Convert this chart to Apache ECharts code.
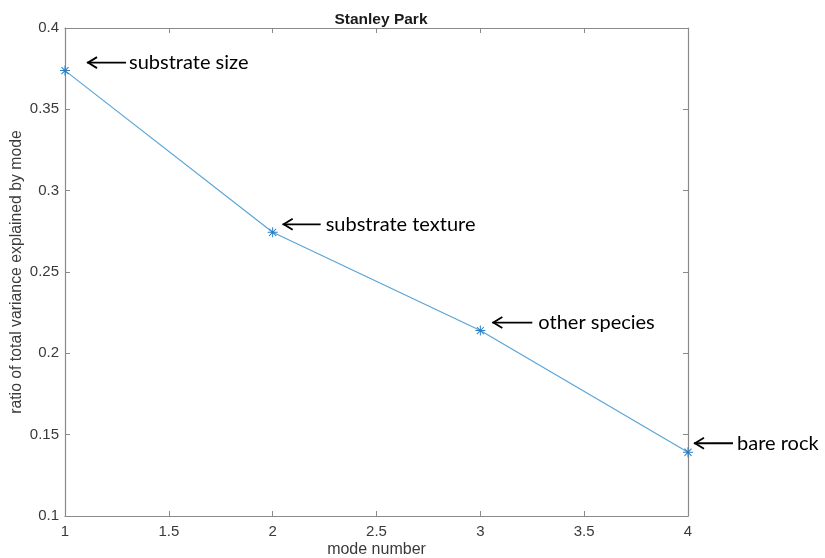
<!DOCTYPE html>
<html>
<head>
<meta charset="utf-8">
<script src="https://cdn.jsdelivr.net/npm/echarts@6/dist/echarts.min.js"></script>
<style>
  html, body { margin: 0; padding: 0; background: #fff; }
  #chart { width: 825px; height: 558px; }
</style>
</head>
<body>
<div id="chart"></div>
<script>
// Mode numbers and the share of total variance each mode explains
const modes = [1, 2, 3, 4];
const varianceRatio = [0.3738, 0.2744, 0.214, 0.1392];
const modeNotes = ['substrate size', 'substrate texture', 'other species', 'bare rock'];
const xTicks = [1, 1.5, 2, 2.5, 3, 3.5, 4];
const yTicks = [0.1, 0.15, 0.2, 0.25, 0.3, 0.35, 0.4];

const axisGray = '#8a8a8a';
const textGray = '#3a3a3a';
const lineBlue = '#5aa5d6';
const markBlue = '#2a7fc4';
const sans = 'Liberation Sans, Arial, sans-serif';

// asterisk marker made of thin bars
const asterisk = 'path://M9,0 L11,0 L11,20 L9,20 Z M0,9 L20,9 L20,11 L0,11 Z ' +
  'M2.2,3.6 L3.6,2.2 L17.8,16.4 L16.4,17.8 Z M16.4,2.2 L17.8,3.6 L3.6,17.8 L2.2,16.4 Z';

const chart = echarts.init(document.getElementById('chart'));

const tickFmt = v => String(+v.toFixed(2));

const baseX = {
  type: 'value', min: xTicks[0], max: xTicks[xTicks.length - 1], interval: 0.5,
  axisLine: { lineStyle: { color: axisGray, width: 1.2 } },
  axisTick: { inside: true, length: 5, lineStyle: { color: axisGray } },
  splitLine: { show: false }
};
const baseY = {
  type: 'value', min: yTicks[0], max: yTicks[yTicks.length - 1], interval: 0.05,
  axisLine: { show: true, lineStyle: { color: axisGray, width: 1.2 } },
  axisTick: { show: true, inside: true, length: 5, lineStyle: { color: axisGray } },
  splitLine: { show: false }
};

chart.setOption({
  animation: false,
  backgroundColor: '#fff',
  title: {
    text: 'Stanley Park',
    left: 376, top: 7, textAlign: 'center',
    textStyle: { fontFamily: sans, fontSize: 15.5, fontWeight: 'bold', color: '#1a1a1a' }
  },
  grid: { left: 65, right: 137, top: 28, bottom: 42, outerBoundsMode: 'none' },
  xAxis: [
    Object.assign({}, baseX, {
      position: 'bottom',
      name: 'mode number', nameLocation: 'middle', nameGap: 26, nameMoveOverlap: false,
      nameTextStyle: { fontFamily: sans, fontSize: 16, color: textGray },
      axisLabel: { margin: 8, fontFamily: sans, fontSize: 15, color: textGray, formatter: tickFmt }
    }),
    Object.assign({}, baseX, { position: 'top', axisLabel: { show: false } })
  ],
  yAxis: [
    Object.assign({}, baseY, {
      position: 'left',
      name: 'ratio of total variance explained by mode', nameLocation: 'middle', nameGap: 40,
      nameMoveOverlap: false,
      nameTextStyle: { fontFamily: sans, fontSize: 15.8, color: textGray },
      axisLabel: { margin: 6, fontFamily: sans, fontSize: 15, color: textGray, formatter: tickFmt }
    }),
    Object.assign({}, baseY, { position: 'right', axisLabel: { show: false } })
  ],
  series: [{
    type: 'line',
    data: modes.map((m, i) => [m, varianceRatio[i]]),
    lineStyle: { color: lineBlue, width: 1.2 },
    symbol: asterisk,
    symbolSize: 10,
    itemStyle: { color: markBlue },
    z: 5
  }]
});

// arrow + note beside each mode: [tip dx, tip dy, arrow length, text gap]
const noteOffsets = [[22, -8, 39, 3], [10, -8, 38, 5], [12, -8, 40, 6], [6, -9, 39, 4]];

const graphics = [];
modes.forEach((m, i) => {
  const p = chart.convertToPixel({ xAxisIndex: 0, yAxisIndex: 0 }, [m, varianceRatio[i]]);
  const [dx, dy, len, gap] = noteOffsets[i];
  const tx = p[0] + dx, ty = p[1] + dy;
  graphics.push({
    type: 'line', shape: { x1: tx, y1: ty, x2: tx + len, y2: ty },
    style: { stroke: '#000', lineWidth: 1.8 }, z: 10
  });
  graphics.push({
    type: 'polyline', shape: { points: [[tx + 10, ty - 5.5], [tx + 1, ty], [tx + 10, ty + 5.5]] },
    style: { stroke: '#000', lineWidth: 1.8, fill: null }, z: 10
  });
  graphics.push({
    type: 'text', x: tx + len + gap, y: ty,
    style: {
      text: modeNotes[i], fill: '#000',
      font: '20px Lato, "Open Sans", sans-serif',
      verticalAlign: 'middle'
    }, z: 10
  });
});
chart.setOption({ graphic: graphics });
</script>
</body>
</html>
